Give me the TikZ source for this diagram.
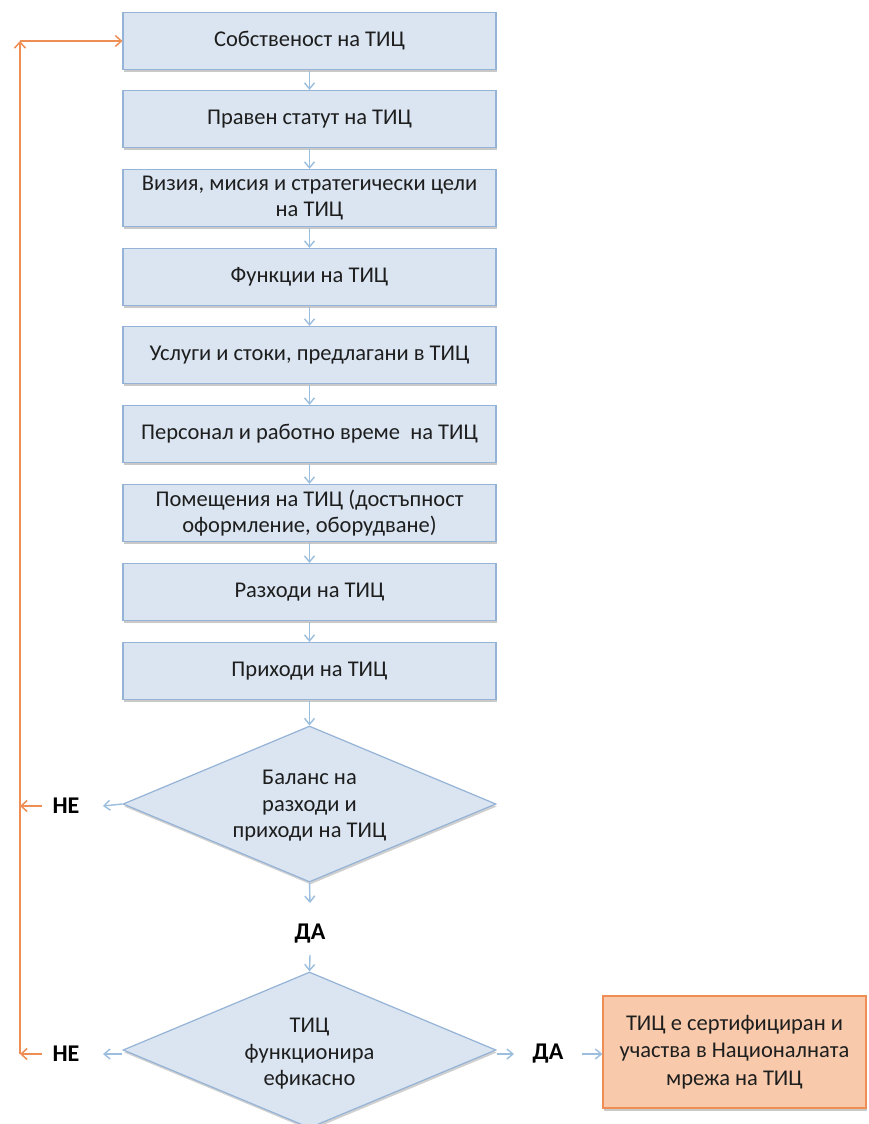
\documentclass[tikz,border=0pt]{standalone}
\usepackage{fontspec}
\setmainfont{Carlito}
\usetikzlibrary{arrows.meta,shapes.geometric,shadows}
\definecolor{boxfill}{HTML}{DAE5F1}
\definecolor{boxline}{HTML}{95B3D7}
\definecolor{arrblue}{HTML}{9BBEDF}
\definecolor{orline}{HTML}{EE8E55}
\definecolor{orfill}{HTML}{F8CAAB}
\definecolor{txt}{HTML}{1E1E1E}
\tikzset{
  stepbox/.style={draw=boxline, line width=1.2pt, fill=boxfill, minimum width=373pt, minimum height=57pt, inner sep=0pt, align=center, text=txt, font=\fontsize{22.5}{26.5}\selectfont,
    drop shadow={shadow xshift=1pt, shadow yshift=-2.5pt, opacity=0.35, fill=black!60}},
  decbox/.style={shape=diamond, draw=boxline, line width=1.2pt, fill=boxfill, minimum width=373pt, minimum height=156pt, inner sep=0pt,
    drop shadow={shadow xshift=1pt, shadow yshift=-2.5pt, opacity=0.3, fill=black!60}},
  dectext/.style={align=center, text=txt, font=\fontsize{22.5}{26.5}\selectfont, inner sep=0pt},
  endbox/.style={draw=orline, line width=1.2pt, fill=orfill, minimum width=263pt, minimum height=112pt, inner sep=0pt, align=center, text=txt, font=\fontsize{22.5}{27.5}\selectfont,
    drop shadow={shadow xshift=1pt, shadow yshift=-2.5pt, opacity=0.35, fill=black!60}},
  lbl/.style={font=\fontsize{24}{28}\selectfont\bfseries, text=black, inner sep=0pt},
  barr/.style={draw=arrblue, line width=1.4pt, -{Straight Barb[length=6pt,width=10pt,line width=1.4pt]}},
  oarr/.style={draw=orline, line width=1.5pt, -{Straight Barb[length=6pt,width=11pt,line width=1.5pt]}},
}
\begin{document}
\begin{tikzpicture}[x=1pt,y=-1pt]
\useasboundingbox[fill=white] (0,0) rectangle (869,1124);
\node[stepbox] (b1) at (309.5,41) {Собственост на ТИЦ};
\node[stepbox] (b2) at (309.5,119) {Правен статут на ТИЦ};
\node[stepbox] (b3) at (309.5,198) {Визия, мисия и стратегически цели\\на ТИЦ};
\node[stepbox] (b4) at (309.5,277) {Функции на ТИЦ};
\node[stepbox] (b5) at (309.5,355) {Услуги и стоки, предлагани в ТИЦ};
\node[stepbox] (b6) at (309.5,434) {Персонал и работно време~~на ТИЦ};
\node[stepbox] (b7) at (309.5,513) {Помещения на ТИЦ (достъпност\\оформление, оборудване)};
\node[stepbox] (b8) at (309.5,592) {Разходи на ТИЦ};
\node[stepbox] (b9) at (309.5,671) {Приходи на ТИЦ};
\node[decbox] (d1) at (309.5,804) {};
\node[dectext] (d1t) at (309.5,806) {Баланс на\\разходи и\\приходи на ТИЦ};
\node[lbl] (no1) at (66,806) {НЕ};
\node[lbl] (yes1) at (310,934) {ДА};
\node[decbox] (d2) at (309.5,1050) {};
\node[dectext] (d2t) at (309.5,1054) {ТИЦ\\функционира\\ефикасно};
\node[lbl] (no2) at (66,1054) {НЕ};
\node[lbl] (yes2) at (548,1054) {ДА};
\node[endbox] (fin) at (734.5,1052) {ТИЦ е сертифициран и\\участва в Националната\\мрежа на ТИЦ};
\coordinate (c1) at (20,806);
\coordinate (c2) at (20,1054);
\coordinate (ctop) at (20,41);
\coordinate (n1e) at (103,806);
\coordinate (n2e) at (103,1054);
\coordinate (n1w) at (42,806);
\coordinate (n2w) at (42,1054);
\coordinate (y1n) at (310,903);
\coordinate (y1s) at (310,955);
\coordinate (y2w) at (514,1054);
\coordinate (y2e) at (582,1054);
% blue arrows
\foreach \a/\b in {b1/b2,b2/b3,b3/b4,b4/b5,b5/b6,b6/b7,b7/b8,b8/b9,b9/d1}
  \draw[barr] ([yshift=-1pt]\a.south) -- (\b.north);
\draw[barr] (d1.south) -- (y1n);
\draw[barr] (y1s) -- (d2.north);
\draw[barr] (d1.west) -- (n1e);
\draw[barr] (d2.west |- n2e) -- (n2e);
\draw[barr] (d2.east |- y2w) -- (y2w);
\draw[barr] (y2e) -- (fin.west |- y2e);
% orange loop
\draw[oarr] (n1w) -- (c1);
\draw[oarr] (n2w) -- (c2);
\draw[oarr] (c2) -- (ctop);
\draw[oarr] (ctop) -- (b1.west);
\end{tikzpicture}
\end{document}
